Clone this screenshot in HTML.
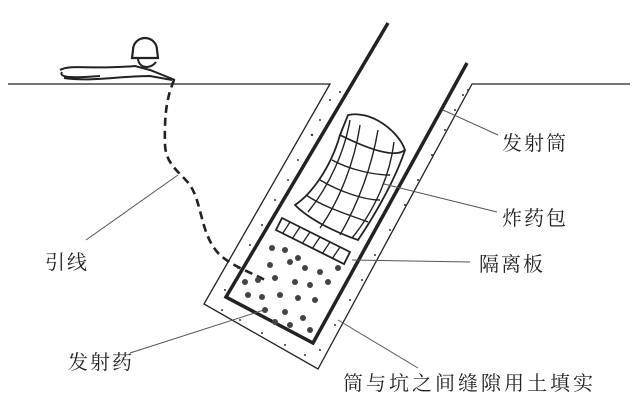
<!DOCTYPE html>
<html><head><meta charset="utf-8"><style>
html,body{margin:0;padding:0;background:#fff;width:640px;height:410px;overflow:hidden}
svg{display:block}
text{font-family:"Liberation Serif","Noto Serif CJK SC","Noto Sans CJK SC",serif;font-size:20px;fill:#222;letter-spacing:2px}
</style></head><body>
<svg width="640" height="410" viewBox="0 0 640 410" xmlns="http://www.w3.org/2000/svg">
<g stroke="#222" fill="none">
<polyline points="8,84 330,84 204,304 318,369 472,84 630,84" stroke-width="1.3"/>
<polyline points="388,23 226,297 313,343 467,63" stroke-width="3.5"/>
<path d="M174,80 C168,95 164,110 165,145 C166,165 180,172 190,185 C203,205 200,235 220,255 C232,266 250,272 265,280" stroke-width="2.6" stroke-dasharray="8,5"/>
<path d="M133,50 A12,12 0 0 1 157,50 L158,58 L132,58 Z" stroke-width="2.2"/>
<path d="M138,58 C138,68 150,70 156,62" stroke-width="2"/>
<path d="M60,70 C70,64 90,70 135,66 L150,70 L170,78 L175,80 M62,72 C58,78 75,78 100,76 M64,78 C90,82 120,76 150,76 L172,80" stroke-width="2"/>
<path d="M348,115 C370,110 398,130 405,150 C395,158 370,150 340,135 Z" stroke-width="1.8"/>
<path d="M340,135 C330,170 310,195 295,205 C310,220 335,232 358,240 C375,215 395,180 405,150" stroke-width="1.8"/>
<path d="M332,160 C350,170 375,175 390,175 M320,180 C340,192 365,200 380,200 M306,195 C325,208 350,215 368,222 M360,125 C355,160 340,200 320,228 M378,130 C372,165 360,200 340,235 M394,142 C390,175 375,210 352,238 M350,120 C345,150 330,185 308,212" stroke-width="1.4"/>
<path d="M282,218 L350,252 L344,264 L276,230 Z" stroke-width="1.8"/>
<path d="M290,222 L283,233 M300,227 L292,239 M310,232 L302,244 M320,237 L312,249 M330,242 L322,254 M340,247 L332,259" stroke-width="1.3"/>
<g stroke-width="1" stroke="#555">
<line x1="498" y1="135" x2="443" y2="110"/>
<line x1="497" y1="212" x2="384" y2="184"/>
<line x1="470" y1="262" x2="352" y2="260"/>
<line x1="86" y1="240" x2="178" y2="175"/>
<line x1="130" y1="353" x2="264" y2="310"/>
<line x1="418" y1="368" x2="338" y2="320"/>
</g>
</g>
<g fill="#333">
<circle cx="330" cy="100" r="1"/><circle cx="320" cy="120" r="1"/><circle cx="312" cy="135" r="1.2"/><circle cx="298" cy="160" r="1"/><circle cx="288" cy="180" r="1"/><circle cx="275" cy="200" r="1"/><circle cx="262" cy="225" r="1"/><circle cx="250" cy="245" r="1"/><circle cx="238" cy="268" r="1"/><circle cx="225" cy="290" r="1"/><circle cx="222" cy="310" r="1"/><circle cx="240" cy="320" r="1"/><circle cx="262" cy="333" r="1"/><circle cx="285" cy="345" r="1"/><circle cx="305" cy="355" r="1"/><circle cx="320" cy="350" r="1"/><circle cx="335" cy="325" r="1"/><circle cx="350" cy="300" r="1"/><circle cx="362" cy="280" r="1"/><circle cx="375" cy="255" r="1"/><circle cx="390" cy="230" r="1"/><circle cx="405" cy="205" r="1"/><circle cx="418" cy="180" r="1"/><circle cx="432" cy="155" r="1"/><circle cx="445" cy="130" r="1"/><circle cx="455" cy="110" r="1"/><circle cx="463" cy="95" r="1"/><circle cx="468" cy="90" r="1"/><circle cx="340" cy="92" r="1"/>
</g>
<g fill="#444">
<circle cx="272" cy="248" r="3"/><circle cx="285" cy="250" r="3"/><circle cx="298" cy="258" r="3"/><circle cx="270" cy="265" r="3"/><circle cx="290" cy="262" r="3"/><circle cx="305" cy="268" r="3"/><circle cx="320" cy="272" r="3"/><circle cx="258" cy="280" r="3"/><circle cx="275" cy="278" r="3"/><circle cx="295" cy="282" r="3"/><circle cx="310" cy="285" r="3"/><circle cx="328" cy="282" r="3"/><circle cx="248" cy="295" r="3"/><circle cx="262" cy="297" r="3"/><circle cx="280" cy="295" r="3"/><circle cx="298" cy="298" r="3"/><circle cx="315" cy="300" r="3"/><circle cx="265" cy="310" r="3"/><circle cx="285" cy="312" r="3"/><circle cx="303" cy="318" r="3"/><circle cx="290" cy="325" r="3"/><circle cx="310" cy="330" r="3"/><circle cx="275" cy="322" r="3"/><circle cx="245" cy="282" r="3"/><circle cx="338" cy="268" r="3"/>
</g>
<text x="502" y="150">发射筒</text>
<text x="502" y="225">炸药包</text>
<text x="479" y="271">隔离板</text>
<text x="45" y="269">引线</text>
<text x="68" y="369">发射药</text>
<text x="343" y="390" style="letter-spacing:3px">筒与坑之间缝隙用土填实</text>
</svg>
</body></html>
